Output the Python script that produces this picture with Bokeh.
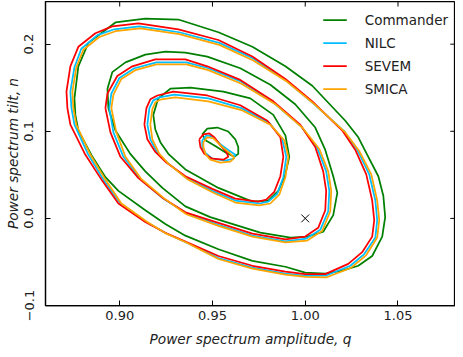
from bokeh.plotting import figure
from bokeh.models import FixedTicker, Range1d
from bokeh.embed import file_html
from bokeh.resources import INLINE

METHODS = ["Commander", "NILC", "SEVEM", "SMICA"]
COLORS = ["#008000", "#00bfff", "#ff0000", "#ffa500"]

X_TICKS = [0.90, 0.95, 1.00, 1.05]
X_LABELS = ["0.90", "0.95", "1.00", "1.05"]
Y_TICKS = [-0.1, 0.0, 0.1, 0.2]
Y_LABELS = ["\u22120.1", "0.0", "0.1", "0.2"]
X_LIMITS = (0.86, 1.081)
Y_LIMITS = (-0.1, 0.249)

FIDUCIAL_Q = [1.0]
FIDUCIAL_N = [0.0]

# contour levels (outer -> inner), amplitude q and tilt n
COMMANDER_Q = [
    [0.8756, 0.8777, 0.8831, 0.8907, 0.8977, 0.9138, 0.9316, 0.9532, 0.9715, 0.9893, 1.0038, 1.0216, 1.0286, 1.0340, 1.0394, 1.0421, 1.0431, 1.0415, 1.0361, 1.0286, 1.0200, 1.0108, 1.0000, 0.9893, 0.9715, 0.9532, 0.9354, 0.9246, 0.9138, 0.8993, 0.8923, 0.8853, 0.8777, 0.8761],
    [0.8934, 0.8960, 0.9031, 0.9138, 0.9246, 0.9354, 0.9472, 0.9650, 0.9812, 0.9946, 1.0054, 1.0108, 1.0151, 1.0173, 1.0151, 1.0097, 1.0011, 0.9920, 0.9758, 0.9623, 0.9488, 0.9354, 0.9230, 0.9138, 0.9057, 0.8977, 0.8939],
    [0.9181, 0.9208, 0.9273, 0.9381, 0.9559, 0.9704, 0.9828, 0.9893, 0.9914, 0.9893, 0.9855, 0.9801, 0.9715, 0.9532, 0.9354, 0.9262, 0.9219, 0.9192],
    [0.9445, 0.9472, 0.9526, 0.9585, 0.9623, 0.9639, 0.9639, 0.9618, 0.9575, 0.9515, 0.9462],
]
COMMANDER_N = [
    [0.1378, 0.1746, 0.2015, 0.2137, 0.2249, 0.2294, 0.2283, 0.2137, 0.1970, 0.1746, 0.1523, 0.1121, 0.0931, 0.0707, 0.0484, 0.0260, 0.0015, -0.0209, -0.0432, -0.0544, -0.0600, -0.0633, -0.0622, -0.0555, -0.0488, -0.0354, -0.0198, -0.0064, 0.0093, 0.0316, 0.0473, 0.0707, 0.1009, 0.1188],
    [0.1489, 0.1679, 0.1791, 0.1880, 0.1914, 0.1903, 0.1858, 0.1724, 0.1534, 0.1311, 0.1043, 0.0786, 0.0484, 0.0294, 0.0037, -0.0153, -0.0209, -0.0220, -0.0164, -0.0075, 0.0015, 0.0138, 0.0350, 0.0540, 0.0741, 0.1009, 0.1266],
    [0.1188, 0.1378, 0.1489, 0.1501, 0.1456, 0.1378, 0.1188, 0.0953, 0.0707, 0.0506, 0.0316, 0.0205, 0.0193, 0.0350, 0.0562, 0.0741, 0.0875, 0.1020],
    [0.0964, 0.1031, 0.1043, 0.0998, 0.0908, 0.0819, 0.0741, 0.0707, 0.0752, 0.0830, 0.0897],
]

NILC_Q = [
    [0.8734, 0.8756, 0.8793, 0.8880, 0.8971, 0.9106, 0.9321, 0.9537, 0.9720, 0.9898, 1.0043, 1.0211, 1.0281, 1.0345, 1.0378, 1.0388, 1.0378, 1.0318, 1.0243, 1.0113, 1.0003, 0.9893, 0.9715, 0.9532, 0.9359, 0.9249, 0.9144, 0.9004, 0.8917, 0.8831, 0.8756, 0.8740],
    [0.8944, 0.8955, 0.8998, 0.9079, 0.9198, 0.9359, 0.9478, 0.9656, 0.9833, 0.9979, 1.0065, 1.0113, 1.0130, 1.0124, 1.0081, 1.0006, 0.9893, 0.9715, 0.9532, 0.9359, 0.9235, 0.9111, 0.9020, 0.8966],
    [0.9149, 0.9160, 0.9181, 0.9214, 0.9295, 0.9478, 0.9656, 0.9806, 0.9876, 0.9898, 0.9882, 0.9849, 0.9801, 0.9753, 0.9623, 0.9499, 0.9359, 0.9257, 0.9203, 0.9165],
    [0.9445, 0.9467, 0.9499, 0.9542, 0.9585, 0.9623, 0.9612, 0.9569, 0.9499, 0.9462, 0.9445],
]
NILC_N = [
    [0.1456, 0.1735, 0.1948, 0.2104, 0.2171, 0.2205, 0.2137, 0.2015, 0.1836, 0.1579, 0.1322, 0.0998, 0.0786, 0.0506, 0.0205, -0.0019, -0.0220, -0.0410, -0.0544, -0.0656, -0.0660, -0.0633, -0.0566, -0.0455, -0.0276, -0.0170, -0.0041, 0.0171, 0.0428, 0.0730, 0.1076, 0.1266],
    [0.1266, 0.1434, 0.1612, 0.1724, 0.1791, 0.1791, 0.1724, 0.1568, 0.1322, 0.1054, 0.0808, 0.0540, 0.0316, 0.0082, -0.0131, -0.0231, -0.0265, -0.0198, -0.0075, 0.0059, 0.0227, 0.0450, 0.0707, 0.0987],
    [0.1076, 0.1266, 0.1355, 0.1389, 0.1422, 0.1378, 0.1266, 0.1098, 0.0908, 0.0707, 0.0473, 0.0283, 0.0193, 0.0171, 0.0205, 0.0316, 0.0462, 0.0640, 0.0752, 0.0908],
    [0.0897, 0.0953, 0.0942, 0.0853, 0.0786, 0.0730, 0.0685, 0.0663, 0.0685, 0.0752, 0.0819],
]

SEVEM_Q = [
    [0.8713, 0.8734, 0.8777, 0.8869, 0.8960, 0.9101, 0.9316, 0.9532, 0.9715, 0.9893, 1.0038, 1.0200, 1.0270, 1.0329, 1.0361, 1.0372, 1.0361, 1.0307, 1.0232, 1.0108, 1.0000, 0.9893, 0.9715, 0.9532, 0.9354, 0.9246, 0.9138, 0.8993, 0.8907, 0.8815, 0.8734, 0.8718],
    [0.8923, 0.8934, 0.8987, 0.9068, 0.9192, 0.9354, 0.9472, 0.9650, 0.9828, 0.9973, 1.0054, 1.0097, 1.0113, 1.0108, 1.0070, 1.0000, 0.9893, 0.9715, 0.9532, 0.9354, 0.9230, 0.9101, 0.9004, 0.8950],
    [0.9133, 0.9144, 0.9165, 0.9203, 0.9289, 0.9472, 0.9650, 0.9796, 0.9866, 0.9882, 0.9866, 0.9833, 0.9790, 0.9747, 0.9623, 0.9499, 0.9354, 0.9246, 0.9192, 0.9149],
    [0.9429, 0.9451, 0.9483, 0.9510, 0.9542, 0.9575, 0.9585, 0.9559, 0.9499, 0.9456, 0.9435],
]
SEVEM_N = [
    [0.1456, 0.1746, 0.1970, 0.2126, 0.2205, 0.2238, 0.2171, 0.2048, 0.1858, 0.1601, 0.1344, 0.1009, 0.0786, 0.0506, 0.0205, -0.0019, -0.0209, -0.0388, -0.0522, -0.0640, -0.0640, -0.0611, -0.0544, -0.0432, -0.0265, -0.0164, -0.0041, 0.0171, 0.0428, 0.0730, 0.1076, 0.1266],
    [0.1266, 0.1434, 0.1635, 0.1746, 0.1825, 0.1825, 0.1746, 0.1590, 0.1344, 0.1076, 0.0819, 0.0540, 0.0316, 0.0093, -0.0108, -0.0209, -0.0242, -0.0175, -0.0052, 0.0070, 0.0238, 0.0462, 0.0707, 0.0987],
    [0.1076, 0.1266, 0.1367, 0.1411, 0.1456, 0.1411, 0.1299, 0.1121, 0.0931, 0.0707, 0.0484, 0.0305, 0.0216, 0.0193, 0.0227, 0.0339, 0.0484, 0.0651, 0.0763, 0.0908],
    [0.0908, 0.0964, 0.0975, 0.0931, 0.0841, 0.0763, 0.0707, 0.0674, 0.0685, 0.0741, 0.0819],
]

SMICA_Q = [
    [0.8745, 0.8766, 0.8804, 0.8890, 0.8977, 0.9111, 0.9321, 0.9537, 0.9720, 0.9903, 1.0049, 1.0216, 1.0291, 1.0356, 1.0388, 1.0399, 1.0388, 1.0329, 1.0248, 1.0113, 1.0003, 0.9893, 0.9715, 0.9532, 0.9359, 0.9251, 0.9149, 0.9009, 0.8928, 0.8842, 0.8766, 0.8750],
    [0.8955, 0.8966, 0.9009, 0.9084, 0.9198, 0.9359, 0.9478, 0.9656, 0.9839, 0.9984, 1.0076, 1.0124, 1.0140, 1.0135, 1.0092, 1.0011, 0.9893, 0.9715, 0.9532, 0.9359, 0.9241, 0.9117, 0.9031, 0.8982],
    [0.9165, 0.9176, 0.9192, 0.9225, 0.9300, 0.9478, 0.9656, 0.9812, 0.9887, 0.9909, 0.9893, 0.9860, 0.9812, 0.9753, 0.9623, 0.9505, 0.9365, 0.9262, 0.9214, 0.9176],
    [0.9451, 0.9472, 0.9505, 0.9548, 0.9591, 0.9618, 0.9596, 0.9542, 0.9488, 0.9462, 0.9451],
]
SMICA_N = [
    [0.1456, 0.1735, 0.1936, 0.2082, 0.2149, 0.2182, 0.2115, 0.1992, 0.1813, 0.1568, 0.1311, 0.0987, 0.0774, 0.0506, 0.0205, -0.0019, -0.0220, -0.0421, -0.0566, -0.0678, -0.0672, -0.0645, -0.0577, -0.0466, -0.0276, -0.0175, -0.0041, 0.0171, 0.0428, 0.0730, 0.1076, 0.1266],
    [0.1266, 0.1422, 0.1601, 0.1702, 0.1769, 0.1769, 0.1702, 0.1545, 0.1311, 0.1043, 0.0797, 0.0540, 0.0316, 0.0082, -0.0142, -0.0254, -0.0276, -0.0209, -0.0086, 0.0048, 0.0227, 0.0450, 0.0707, 0.0987],
    [0.1076, 0.1255, 0.1333, 0.1367, 0.1389, 0.1344, 0.1244, 0.1076, 0.0897, 0.0707, 0.0473, 0.0272, 0.0171, 0.0149, 0.0182, 0.0294, 0.0450, 0.0629, 0.0741, 0.0908],
    [0.0875, 0.0931, 0.0920, 0.0830, 0.0752, 0.0696, 0.0651, 0.0640, 0.0674, 0.0741, 0.0819],
]

CONTOURS_Q = [COMMANDER_Q, NILC_Q, SEVEM_Q, SMICA_Q]
CONTOURS_N = [COMMANDER_N, NILC_N, SEVEM_N, SMICA_N]

FONT = "DejaVu Sans"
TEXT_COLOR = "#222222"
TICK_LEN_X = 0.0028   # inward tick length on the right frame edge (data units)
TICK_LEN_Y = 0.0058   # inward tick length on the top frame edge (data units)

p = figure(width=455, height=349,
           x_range=Range1d(*X_LIMITS), y_range=Range1d(*Y_LIMITS),
           output_backend="svg", toolbar_location=None,
           min_border_left=45, min_border_right=0, min_border_top=1, min_border_bottom=44,
           x_axis_label="Power spectrum amplitude, q",
           y_axis_label="Power spectrum tilt, n")
p.xgrid.visible = False
p.ygrid.visible = False
p.outline_line_color = "black"
p.outline_line_width = 1.25
p.background_fill_color = "white"
p.border_fill_color = "white"

for ax, ticks, labels in ((p.xaxis[0], X_TICKS, X_LABELS), (p.yaxis[0], Y_TICKS, Y_LABELS)):
    ax.ticker = FixedTicker(ticks=ticks)
    ax.major_label_overrides = {t: l for t, l in zip(ticks, labels)}
    ax.major_tick_in = 5
    ax.major_tick_out = 0
    ax.minor_tick_line_color = None
    ax.axis_line_color = "black"
    ax.axis_line_width = 1.25
    ax.major_tick_line_color = "black"
    ax.major_label_text_font = FONT
    ax.major_label_text_font_size = "13px"
    ax.major_label_text_color = TEXT_COLOR
    ax.axis_label_text_font = FONT
    ax.axis_label_text_font_size = "13.7px"
    ax.axis_label_text_font_style = "italic"
    ax.axis_label_text_color = TEXT_COLOR

p.xaxis.major_label_standoff = 5
p.xaxis.axis_label_standoff = 8
p.yaxis.major_label_standoff = 12
p.yaxis.axis_label_standoff = 1
p.yaxis.major_label_orientation = "vertical"

# inward ticks on the top and right frame edges, at the same tick values
p.segment(x0=X_TICKS, y0=[Y_LIMITS[1]] * len(X_TICKS),
          x1=X_TICKS, y1=[Y_LIMITS[1] - TICK_LEN_Y] * len(X_TICKS),
          line_color="black", line_width=1)
p.segment(x0=[X_LIMITS[1]] * len(Y_TICKS), y0=Y_TICKS,
          x1=[X_LIMITS[1] - TICK_LEN_X] * len(Y_TICKS), y1=Y_TICKS,
          line_color="black", line_width=1)

for name, color, qs, ns in zip(METHODS, COLORS, CONTOURS_Q, CONTOURS_N):
    xs = [list(q) + [q[0]] for q in qs]
    ys = [list(n) + [n[0]] for n in ns]
    p.multi_line(xs, ys, line_color=color, line_width=1.75, line_join="round",
                 legend_label=name)

p.scatter(FIDUCIAL_Q, FIDUCIAL_N, marker="x", size=11, line_color="black", line_width=1)

lg = p.legend[0]
lg.location = "top_right"
lg.border_line_color = None
lg.background_fill_alpha = 0
lg.margin = 7
lg.padding = 10
lg.spacing = 0
lg.glyph_width = 24
lg.glyph_height = 23
lg.label_height = 23
lg.label_standoff = 18
lg.label_text_font = FONT
lg.label_text_font_size = "13.5px"
lg.label_text_color = TEXT_COLOR

open("out.html", "w").write(file_html(p, INLINE))
